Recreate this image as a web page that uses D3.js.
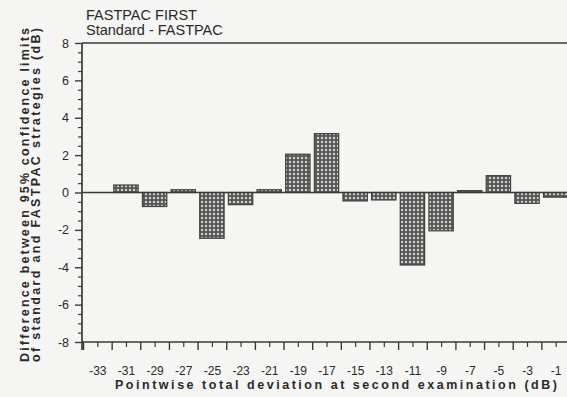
<!DOCTYPE html>
<html>
<head>
<meta charset="utf-8">
<script src="https://cdn.jsdelivr.net/npm/d3@7"></script>
<style>
  html, body { margin: 0; padding: 0; background: #f5f5f3; }
  svg { display: block; }
  text { font-family: Arial, "Liberation Sans", Helvetica, sans-serif; fill: #2a2a2a; }
</style>
</head>
<body>
<svg id="chart" width="567" height="397"></svg>
<script>
// Pointwise total deviation bins (dB) and the difference in 95% confidence limits
const categories = [-33, -31, -29, -27, -25, -23, -21, -19, -17, -15, -13, -11, -9, -7, -5, -3, -1];
const differences = [null, 0.4, -0.75, 0.15, -2.45, -0.65, 0.15, 2.05, 3.15, -0.45, -0.4, -3.88, -2.05, 0.1, 0.9, -0.58, -0.25];
const yMajorTicks = [-8, -6, -4, -2, 0, 2, 4, 6, 8];
const titleLines = ["FASTPAC FIRST", "Standard - FASTPAC"];
const xTitle = "Pointwise total deviation at second examination (dB)";
const yTitleLines = ["Difference between 95% confidence limits", "of standard and FASTPAC strategies (dB)"];

const svg = d3.select("#chart");
const W = 567, H = 397;
const plotLeft = 82, plotTop = 43, plotBottom = 342;
const hyphenFormat = d => String(d); // plain ASCII hyphen for negatives

const x = d3.scaleLinear().domain([-34, 0]).range([83, 570]);
const y = d3.scaleLinear().domain([-8, 8]).range([plotBottom, plotTop]);

// dotted fill used by the bars
const defs = svg.append("defs");
const pat = defs.append("pattern")
  .attr("id", "dots").attr("patternUnits", "userSpaceOnUse")
  .attr("width", 4).attr("height", 4);
pat.append("rect").attr("width", 4).attr("height", 4).attr("fill", "#555555");
pat.append("circle").attr("cx", 2).attr("cy", 2).attr("r", 1.25).attr("fill", "#cfcfcd");

svg.append("rect").attr("width", W).attr("height", H).attr("fill", "#f5f5f3");

// bars
const barW = (x(1.7) - x(0));
const data = categories.map((c, i) => ({ c, v: differences[i] })).filter(d => d.v !== null);
svg.append("g").selectAll("rect").data(data).join("rect")
  .attr("x", d => x(d.c) - barW / 2)
  .attr("width", barW)
  .attr("y", d => y(Math.max(0, d.v)))
  .attr("height", d => Math.abs(y(d.v) - y(0)))
  .attr("fill", "url(#dots)")
  .attr("stroke", "#404040")
  .attr("stroke-width", 1.2);

// zero reference line
svg.append("line")
  .attr("x1", plotLeft).attr("x2", W)
  .attr("y1", y(0)).attr("y2", y(0))
  .attr("stroke", "#3a3a3a").attr("stroke-width", 1.4);

// top frame line
svg.append("line")
  .attr("x1", plotLeft).attr("x2", W)
  .attr("y1", y(8)).attr("y2", y(8))
  .attr("stroke", "#3a3a3a").attr("stroke-width", 1.4);

// y axis: major ticks every 2, minor every 0.5
const yAxis = d3.axisLeft(y).tickValues(yMajorTicks).tickSize(7).tickPadding(6).tickFormat(hyphenFormat);
const gy = svg.append("g").attr("transform", `translate(${plotLeft},0)`).call(yAxis);
gy.select(".domain").remove();
gy.selectAll(".tick line").attr("stroke", "#3a3a3a").attr("stroke-width", 1.4);
gy.selectAll(".tick text").attr("font-size", 12.5).attr("fill", "#2a2a2a");
const yMinor = d3.axisLeft(y).tickValues(d3.range(-8, 8.01, 0.5).filter(v => v % 2 !== 0)).tickSize(4).tickFormat("");
const gym = svg.append("g").attr("transform", `translate(${plotLeft},0)`).call(yMinor);
gym.select(".domain").remove();
gym.selectAll(".tick line").attr("stroke", "#3a3a3a").attr("stroke-width", 1.2);

// x axis: labels on odd values, long ticks on even values
const xLabelled = d3.axisBottom(x).tickValues(categories).tickSize(5).tickPadding(19).tickFormat(hyphenFormat);
const gx = svg.append("g").attr("transform", `translate(0,${plotBottom})`).call(xLabelled);
gx.select(".domain").remove();
gx.selectAll(".tick line").attr("stroke", "#3a3a3a").attr("stroke-width", 1.2);
gx.selectAll(".tick text").attr("font-size", 12).attr("fill", "#2a2a2a");
const xLong = d3.axisBottom(x).tickValues(d3.range(-34, 1, 2)).tickSize(8).tickFormat("");
const gxl = svg.append("g").attr("transform", `translate(0,${plotBottom})`).call(xLong);
gxl.select(".domain").remove();
gxl.selectAll(".tick line").attr("stroke", "#3a3a3a").attr("stroke-width", 1.4);

// axis lines
svg.append("line").attr("x1", plotLeft).attr("x2", plotLeft).attr("y1", plotTop).attr("y2", plotBottom + 8)
  .attr("stroke", "#3a3a3a").attr("stroke-width", 1.7);
svg.append("line").attr("x1", plotLeft).attr("x2", W).attr("y1", plotBottom).attr("y2", plotBottom)
  .attr("stroke", "#3a3a3a").attr("stroke-width", 1.7);

// title block
svg.append("g").selectAll("text").data(titleLines).join("text")
  .attr("x", 86).attr("y", (d, i) => 20 + i * 15)
  .attr("font-size", 14.5)
  .text(d => d);

// x axis title
svg.append("text")
  .attr("x", 115).attr("y", 389)
  .attr("font-size", 12.5).attr("font-weight", "bold")
  .attr("textLength", 442).attr("lengthAdjust", "spacing")
  .text(xTitle);

// y axis title, two rotated lines
svg.append("g").selectAll("text").data(yTitleLines).join("text")
  .attr("transform", (d, i) => `translate(${29 + i * 11},362) rotate(-90)`)
  .attr("font-size", 12.5).attr("font-weight", "bold")
  .attr("textLength", 334).attr("lengthAdjust", "spacing")
  .text(d => d);
</script>
</body>
</html>
